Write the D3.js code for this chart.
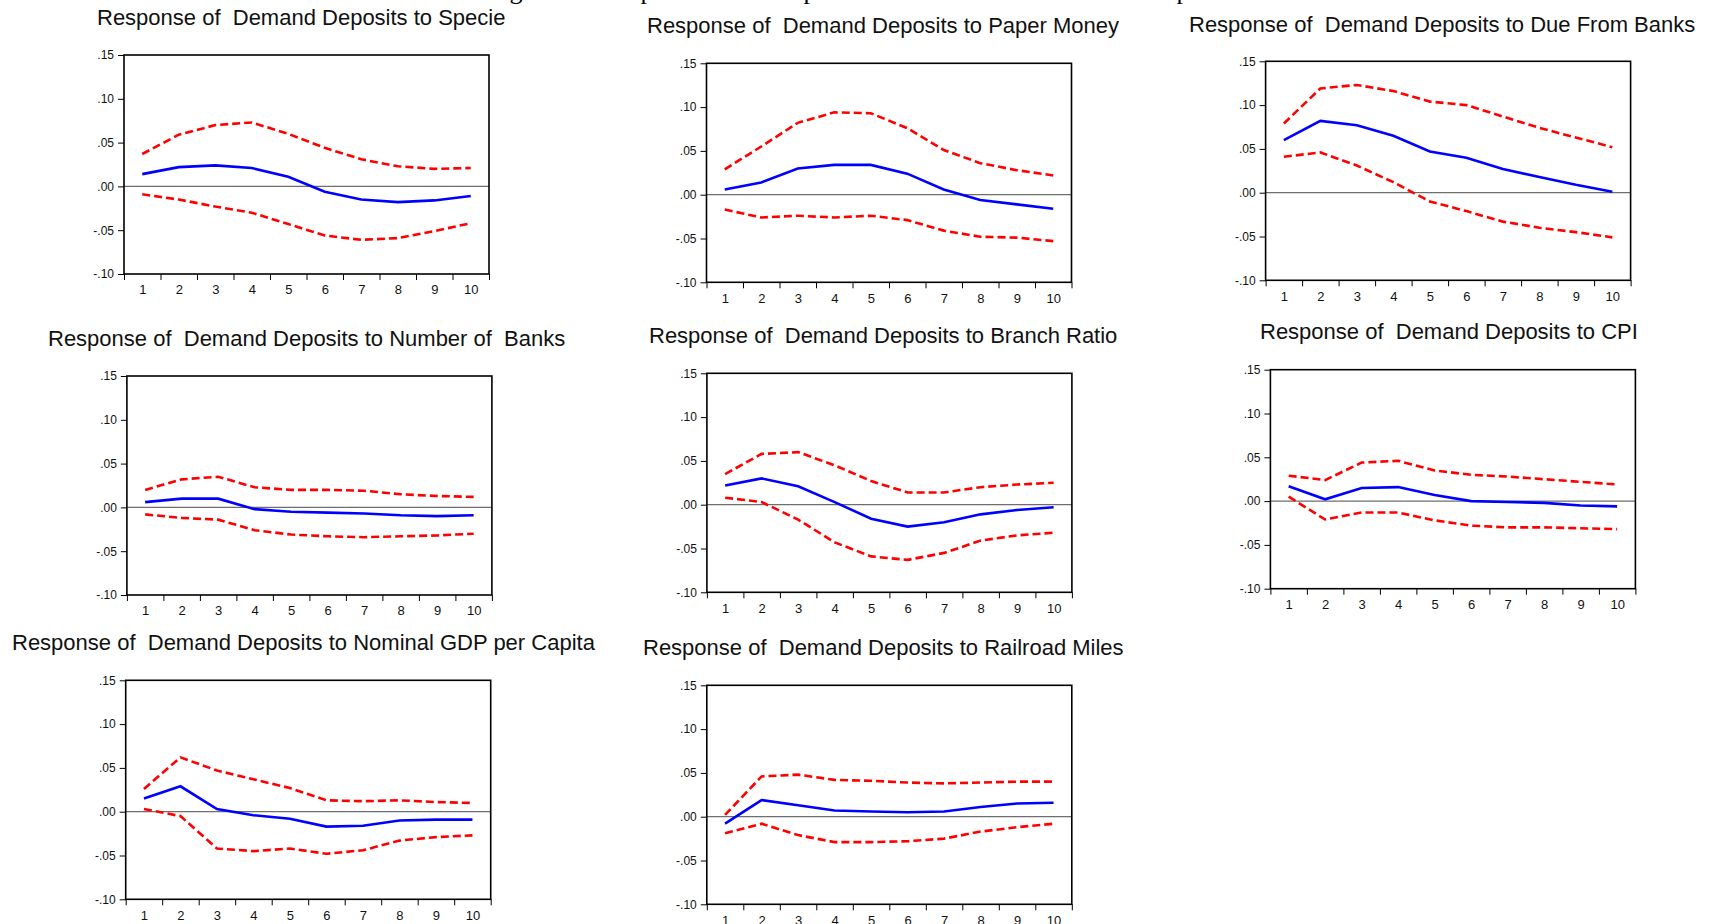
<!DOCTYPE html>
<html lang="en">
	<head>
		<meta charset="utf-8">
		<title>Impulse responses of Demand Deposits</title>
		<script type="text/javascript" src="https://cdn.jsdelivr.net/npm/d3@7"></script>
		<style type="text/css">
			body { margin: 0; background: #fff; }
			svg text { font-family: "Liberation Sans", Arial, sans-serif; }
		</style>
	</head>
	<body>
		<script type="text/javascript">

			//Width and height of the page
			var w = 1713;
			var h = 924;

			//Horizon (periods) and y ticks
			var periods = [1, 2, 3, 4, 5, 6, 7, 8, 9, 10];
			var yTickValues = [0.15, 0.10, 0.05, 0, -0.05, -0.10];
			var yTickLabels = [".15", ".10", ".05", ".00", "-.05", "-.10"];

			var titles = [
				"Response of  Demand Deposits to Specie",
				"Response of  Demand Deposits to Paper Money",
				"Response of  Demand Deposits to Due From Banks",
				"Response of  Demand Deposits to Number of  Banks",
				"Response of  Demand Deposits to Branch Ratio",
				"Response of  Demand Deposits to CPI",
				"Response of  Demand Deposits to Nominal GDP per Capita",
				"Response of  Demand Deposits to Railroad Miles"
			];

			//Response, upper band (+2 s.e.) and lower band (-2 s.e.)
			var specieResp  = [0.014, 0.022, 0.024, 0.021, 0.011, -0.006, -0.015, -0.018, -0.016, -0.011];
			var specieUpper = [0.037, 0.059, 0.070, 0.073, 0.060, 0.044, 0.031, 0.023, 0.020, 0.021];
			var specieLower = [-0.009, -0.015, -0.023, -0.030, -0.043, -0.056, -0.061, -0.059, -0.051, -0.042];

			var paperResp  = [0.006, 0.014, 0.030, 0.034, 0.034, 0.024, 0.006, -0.006, -0.011, -0.016];
			var paperUpper = [0.029, 0.055, 0.082, 0.094, 0.093, 0.076, 0.051, 0.036, 0.028, 0.022];
			var paperLower = [-0.017, -0.026, -0.024, -0.026, -0.024, -0.029, -0.041, -0.048, -0.049, -0.053];

			var dueResp  = [0.060, 0.082, 0.077, 0.065, 0.047, 0.040, 0.027, 0.018, 0.009, 0.001];
			var dueUpper = [0.079, 0.119, 0.123, 0.116, 0.104, 0.100, 0.087, 0.074, 0.063, 0.052];
			var dueLower = [0.041, 0.046, 0.031, 0.012, -0.010, -0.021, -0.033, -0.040, -0.045, -0.051];

			var banksResp  = [0.006, 0.010, 0.010, -0.002, -0.005, -0.006, -0.007, -0.009, -0.010, -0.009];
			var banksUpper = [0.020, 0.032, 0.035, 0.023, 0.020, 0.020, 0.019, 0.015, 0.013, 0.012];
			var banksLower = [-0.008, -0.012, -0.014, -0.026, -0.031, -0.033, -0.034, -0.033, -0.032, -0.030];

			var branchResp  = [0.022, 0.030, 0.021, 0.003, -0.016, -0.025, -0.020, -0.011, -0.006, -0.003];
			var branchUpper = [0.035, 0.058, 0.060, 0.045, 0.027, 0.014, 0.014, 0.020, 0.023, 0.025];
			var branchLower = [0.008, 0.003, -0.017, -0.043, -0.059, -0.063, -0.055, -0.041, -0.035, -0.032];

			var cpiResp  = [0.017, 0.002, 0.015, 0.016, 0.007, 0.000, -0.001, -0.002, -0.005, -0.006];
			var cpiUpper = [0.029, 0.024, 0.044, 0.046, 0.035, 0.030, 0.028, 0.025, 0.022, 0.019];
			var cpiLower = [0.005, -0.021, -0.013, -0.013, -0.022, -0.028, -0.030, -0.030, -0.031, -0.032];

			var gdpResp  = [0.015, 0.029, 0.003, -0.004, -0.008, -0.017, -0.016, -0.010, -0.009, -0.009];
			var gdpUpper = [0.026, 0.062, 0.047, 0.037, 0.027, 0.013, 0.012, 0.013, 0.011, 0.010];
			var gdpLower = [0.003, -0.005, -0.042, -0.045, -0.042, -0.048, -0.044, -0.033, -0.029, -0.027];

			var railResp  = [-0.008, 0.019, 0.013, 0.007, 0.006, 0.005, 0.006, 0.011, 0.015, 0.016];
			var railUpper = [0.002, 0.046, 0.048, 0.042, 0.041, 0.039, 0.038, 0.039, 0.040, 0.040];
			var railLower = [-0.019, -0.008, -0.021, -0.029, -0.029, -0.028, -0.025, -0.017, -0.012, -0.008];

			var panelData = [
				[specieResp, specieUpper, specieLower],
				[paperResp, paperUpper, paperLower],
				[dueResp, dueUpper, dueLower],
				[banksResp, banksUpper, banksLower],
				[branchResp, branchUpper, branchLower],
				[cpiResp, cpiUpper, cpiLower],
				[gdpResp, gdpUpper, gdpLower],
				[railResp, railUpper, railLower]
			];

			//Where each panel sits (frame left/top, title start/baseline)
			var layout = [
				{ left: 124,   top: 55,    tx: 97,   ty: 25 },
				{ left: 706.5, top: 63.3,  tx: 647,  ty: 33 },
				{ left: 1265.6,top: 61.3,  tx: 1189, ty: 31.5 },
				{ left: 126.9, top: 376,   tx: 48,   ty: 346 },
				{ left: 706.9, top: 373.3, tx: 649,  ty: 343 },
				{ left: 1270.4,top: 369.7, tx: 1260, ty: 339 },
				{ left: 125.7, top: 680.3, tx: 12,   ty: 650 },
				{ left: 706.8, top: 685.3, tx: 643,  ty: 655 }
			];

			var pw = 365;
			var ph = 219;

			//Create SVG element
			var svg = d3.select("body")
						.append("svg")
						.attr("width", w)
						.attr("height", h);

			svg.append("rect")
				.attr("width", w)
				.attr("height", h)
				.attr("fill", "#fff");

			//Descenders of the caption line that is cut off at the top
			svg.selectAll("text.cut")
				.data(["g", "p", "p", "p"])
				.enter()
				.append("text")
				.attr("class", "cut")
				.attr("x", function(d, i) { return [516, 647, 810, 1183][i]; })
				.attr("y", -1)
				.attr("text-anchor", "middle")
				.style("font-family", "'Liberation Serif', 'Times New Roman', serif")
				.style("font-size", "26px")
				.attr("fill", "#000")
				.text(function(d) { return d; });

			var xScale = d3.scaleLinear()
						   .domain([0.5, 10.5])
						   .range([0, pw]);

			var yScale = d3.scaleLinear()
						   .domain([-0.10, 0.15])
						   .range([ph, 0]);

			var line = d3.line()
						 .x(function(d, i) { return xScale(periods[i]); })
						 .y(function(d) { return yScale(d); });

			panelData.forEach(function(series, k) {
				var L = layout[k];

				//Title
				svg.append("text")
					.attr("x", L.tx)
					.attr("y", L.ty)
					.style("font-size", "22px")
					.style("white-space", "pre")
					.attr("fill", "#111")
					.text(titles[k]);

				var g = svg.append("g")
						   .attr("transform", "translate(" + L.left + "," + L.top + ")");

				//Y axis
				var yAxis = d3.axisLeft()
							  .scale(yScale)
							  .tickValues(yTickValues)
							  .tickFormat(function(d, i) { return yTickLabels[i]; })
							  .tickSize(6)
							  .tickPadding(4);

				g.append("g")
					.attr("class", "axis")
					.call(yAxis)
					.call(function(a) { a.select(".domain").remove(); })
					.attr("font-size", 12)
					.attr("font-family", null);

				//X axis: ticks on the period boundaries, labels in the middle
				var xTicks = d3.axisBottom()
							   .scale(xScale)
							   .tickValues(d3.range(0.5, 11, 1))
							   .tickFormat("")
							   .tickSize(6);

				var xLabels = d3.axisBottom()
								.scale(xScale)
								.tickValues(periods)
								.tickSize(0)
								.tickPadding(11);

				g.append("g")
					.attr("transform", "translate(0," + ph + ")")
					.call(xTicks)
					.call(function(a) { a.select(".domain").remove(); });

				g.append("g")
					.attr("transform", "translate(0," + ph + ")")
					.call(xLabels)
					.call(function(a) { a.select(".domain").remove(); })
					.attr("font-size", 13)
					.attr("font-family", null);

				g.selectAll(".tick line").attr("stroke", "#000");
				g.selectAll(".tick text").attr("fill", "#111");

				//Zero line
				g.append("line")
					.attr("x1", 0)
					.attr("x2", pw)
					.attr("y1", yScale(0))
					.attr("y2", yScale(0))
					.attr("stroke", "#6e6e6e")
					.attr("stroke-width", 1.3);

				//Bands first, response on top
				[series[1], series[2]].forEach(function(band) {
					g.append("path")
						.datum(band)
						.attr("d", line)
						.attr("fill", "none")
						.attr("stroke", "#ff0000")
						.attr("stroke-width", 2.6)
						.attr("stroke-dasharray", "8,4");
				});

				g.append("path")
					.datum(series[0])
					.attr("d", line)
					.attr("fill", "none")
					.attr("stroke", "#0000ff")
					.attr("stroke-width", 2.6);

				//Frame
				g.append("rect")
					.attr("width", pw)
					.attr("height", ph)
					.attr("fill", "none")
					.attr("stroke", "#000")
					.attr("stroke-width", 1.6);
			});

		</script>
	</body>
</html>
